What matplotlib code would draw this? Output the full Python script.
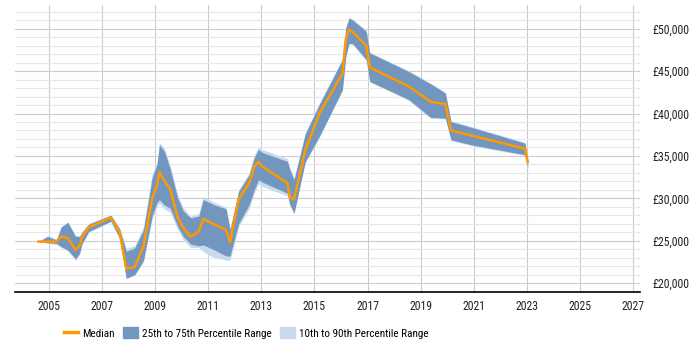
import matplotlib.pyplot as plt
import numpy as np
from matplotlib.lines import Line2D
from matplotlib.patches import Patch
from matplotlib.ticker import MultipleLocator, FuncFormatter

plt.rcParams['font.family'] = ['Roboto Condensed', 'PT Sans Narrow', 'Liberation Sans', 'DejaVu Sans']

# Datos
years = [2004.6, 2004.95, 2005.28, 2005.46, 2005.71, 2006.0, 2006.15, 2006.25, 2006.5, 2007.33,
         2007.66, 2007.91, 2008.23, 2008.56, 2008.89, 2009.07, 2009.16, 2009.35, 2009.56, 2009.85,
         2010.06, 2010.33, 2010.64, 2010.81, 2011.17, 2011.67, 2011.82, 2012.14, 2012.54, 2012.73,
         2012.89, 2013.04, 2013.98, 2014.07, 2014.23, 2014.65, 2015.2, 2016.05, 2016.18, 2016.3,
         2016.45, 2016.95, 2017.08, 2018.55, 2019.37, 2019.93, 2020.14, 2020.93, 2022.93, 2023.03]
median = [24900, 24900, 24900, 25500, 25300, 23950, 24350, 25500, 26600, 27700,
          26000, 21700, 21900, 24350, 30000, 31600, 33050, 32000, 31100, 27700,
          26500, 25450, 26100, 27550, 27000, 26300, 24800, 29850, 31800, 33750,
          34300, 33750, 31800, 30150, 29850, 35650, 40100, 44700, 48800, 49900,
          49600, 48000, 45450, 43200, 41400, 41100, 38000, 37400, 35850, 34300]
p25 = [24900, 24750, 24700, 24300, 23900, 22850, 23500, 24700, 26100, 27300,
       25300, 20600, 21000, 22700, 28000, 29500, 29850, 29200, 28850, 26700,
       25500, 24600, 24400, 24500, 24000, 23200, 23200, 27000, 29250, 31000,
       32200, 31900, 30600, 29300, 28250, 34300, 37400, 42800, 46750, 48300,
       48200, 46350, 43800, 41650, 39550, 39450, 36900, 36300, 35150, 33600]
p75 = [24900, 25500, 25100, 26600, 27150, 25500, 25500, 26000, 26950, 28000,
       26400, 23750, 24150, 26300, 32500, 34000, 36300, 35500, 33500, 30000,
       28500, 27700, 27900, 29850, 29300, 28750, 26300, 30800, 32800, 34800,
       35750, 35400, 34350, 33400, 32200, 37600, 41200, 46350, 50100, 51250,
       51000, 49700, 47150, 44950, 43500, 42400, 39050, 38350, 36500, 34550]
p10 = [24900, 24700, 24550, 24200, 23800, 22700, 23400, 24600, 26000, 27250,
       25200, 20500, 20900, 22500, 27600, 29000, 29400, 28700, 28400, 26300,
       25100, 24200, 24200, 23700, 23100, 22700, 22700, 26600, 28800, 30600,
       31700, 31400, 30300, 29100, 28150, 34200, 37300, 42700, 46650, 48200,
       48100, 46250, 43700, 41550, 39450, 39350, 36800, 36200, 35050, 33400]
p90 = [24900, 25600, 25200, 26700, 27250, 25600, 25600, 26100, 27050, 28050,
       26500, 24100, 24400, 26700, 32900, 34400, 36600, 35900, 33900, 30400,
       28900, 27900, 28200, 30200, 29600, 28950, 26450, 31000, 33000, 35100,
       36050, 35750, 34700, 33650, 32350, 37700, 41300, 46450, 50200, 51350,
       51100, 49800, 47250, 45050, 43600, 42500, 39150, 38450, 36600, 34650]

fig = plt.figure(figsize=(7, 3.5), dpi=100)
ax = fig.add_axes([15 / 700, 1 - 292 / 350, 625 / 700, 287 / 350])

ax.fill_between(years, p10, p90, color='#c9daed', lw=0, zorder=2)
ax.fill_between(years, p25, p75, color='#7396bf', lw=0, zorder=3)
ax.plot(years, median, color='#ff9900', lw=1.8, zorder=4)

ax.set_xlim(2003.72, 2027.26)
ax.set_ylim(18950, 52800)

ax.set_xticks(np.arange(2005, 2028, 2))
ax.yaxis.set_major_locator(MultipleLocator(5000))
ax.yaxis.set_minor_locator(MultipleLocator(1000))
ax.yaxis.set_major_formatter(FuncFormatter(lambda v, p: '£{:,.0f}'.format(v)))
ax.yaxis.tick_right()

ax.grid(axis='x', which='major', color='#cccccc', lw=0.8, zorder=0)
ax.grid(axis='y', which='major', color='#cccccc', lw=0.8, zorder=0)
ax.grid(axis='y', which='minor', color='#e8e8e8', lw=0.8, zorder=0)
ax.set_axisbelow(True)

for s in ['left', 'right', 'top']:
    ax.spines[s].set_visible(False)
ax.spines['bottom'].set_color('black')
ax.spines['bottom'].set_linewidth(1.2)

ax.tick_params(axis='both', which='both', length=0, labelsize=8.5, colors='#222222')
ax.tick_params(axis='x', pad=6)
ax.tick_params(axis='y', pad=9)

handles = [Line2D([], [], color='#ff9900', lw=2.5),
           Patch(color='#7396bf'),
           Patch(color='#c9daed')]
labels = ['Median', '25th to 75th Percentile Range', '10th to 90th Percentile Range']
fig.legend(handles, labels, loc='center', bbox_to_anchor=(246 / 700, 1 - 333 / 350),
           ncol=3, frameon=False, fontsize=8, handlelength=1.3, handleheight=1.1,
           columnspacing=0.8, handletextpad=0.35)

fig.savefig('out.png', dpi=100)
